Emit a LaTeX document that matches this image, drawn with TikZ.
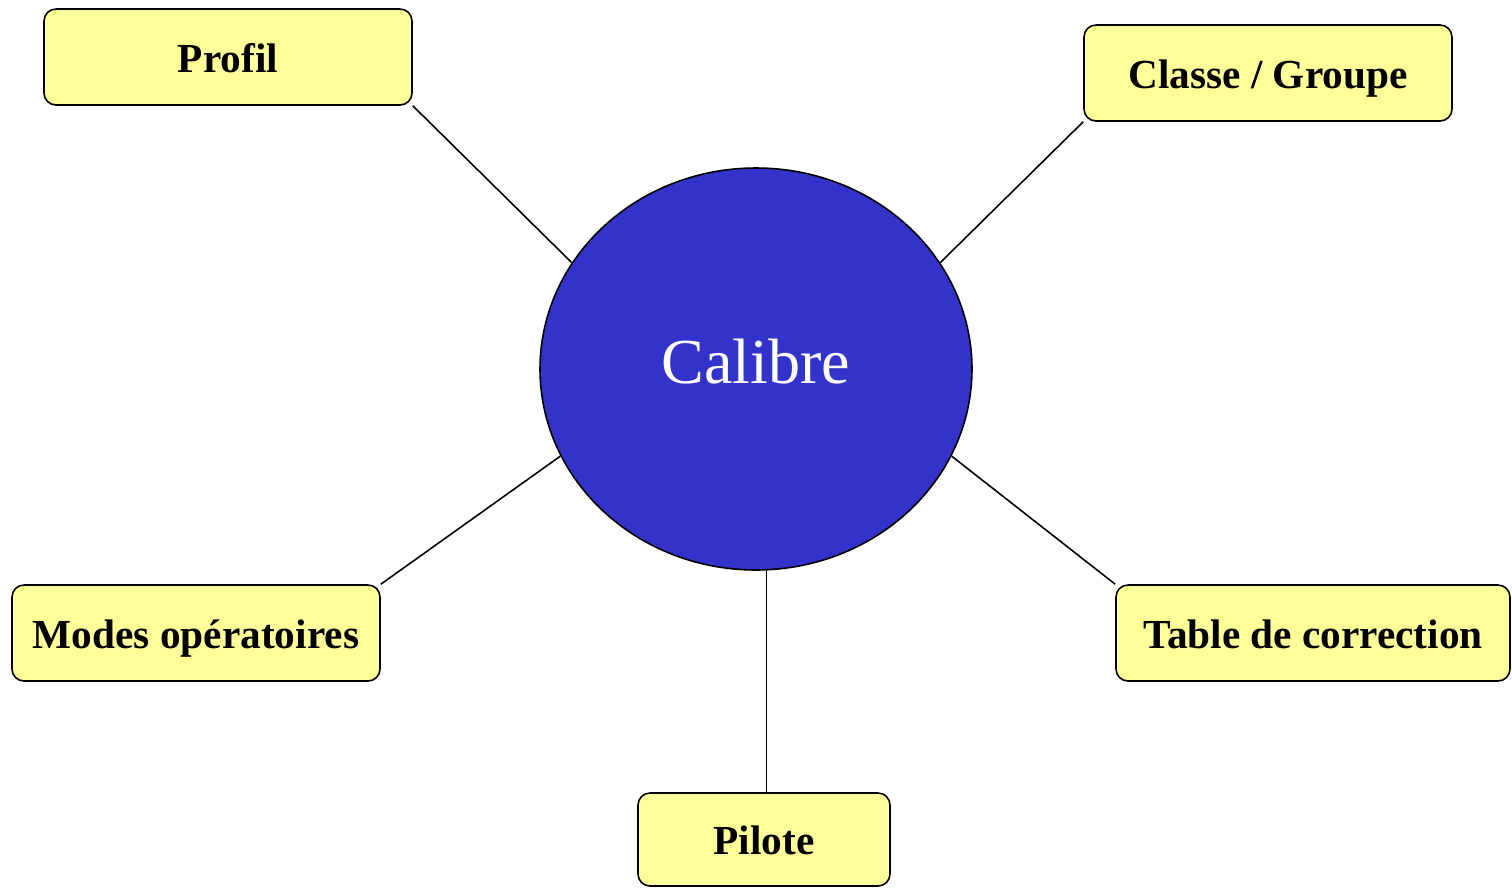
\documentclass[tikz,border=0pt]{standalone}
\usepackage{fontspec}
\setmainfont{Liberation Serif}
\usetikzlibrary{positioning,shapes.geometric}
\usepackage{xcolor}
\definecolor{boxyellow}{HTML}{FFFF99}
\definecolor{calblue}{HTML}{3333CC}

\begin{document}
\begin{tikzpicture}[
	item/.style={draw, fill=boxyellow, rounded corners=0.24cm, line width=0.9pt,
		minimum width=7.36cm, minimum height=1.92cm, text height=0.65cm, text depth=0.05cm,
		font=\fontsize{23.5}{28}\selectfont\bfseries},
	link/.style={line width=0.9pt}
	]
	\useasboundingbox (0,0) rectangle (30.24,-17.74);
	\node[ellipse, draw, fill=calblue, line width=0.9pt, minimum width=8.64cm, minimum height=8.04cm,
		text=white, font=\fontsize{36.5}{44}\selectfont] (calibre) at (15.12,-7.38) {\raisebox{0.32cm}{Calibre}};
	
	\node[item] (profil) at (4.56,-1.14) {Profil};
	\node[item] (classe) at (25.36,-1.46) {Classe / Groupe};
	\node[item] (modes) at (3.92,-12.66) {Modes opératoires};
	\node[item, minimum width=7.88cm] (table) at (26.26,-12.66) {Table de correction};
	\node[item, minimum width=5.04cm, minimum height=1.86cm] (pilote) at (15.28,-16.79) {Pilote};
	
	\draw[link] (profil.south east) -- (calibre.150);
	\draw[link] (classe.south west) -- (calibre.30);
	\draw[link] (modes.north east) -- (calibre.204);
	\draw[link] (table.north west) -- (calibre.336);
	\draw[link] (calibre.-87) -- (calibre.-87 |- pilote.north);
	
\end{tikzpicture}
\end{document}
